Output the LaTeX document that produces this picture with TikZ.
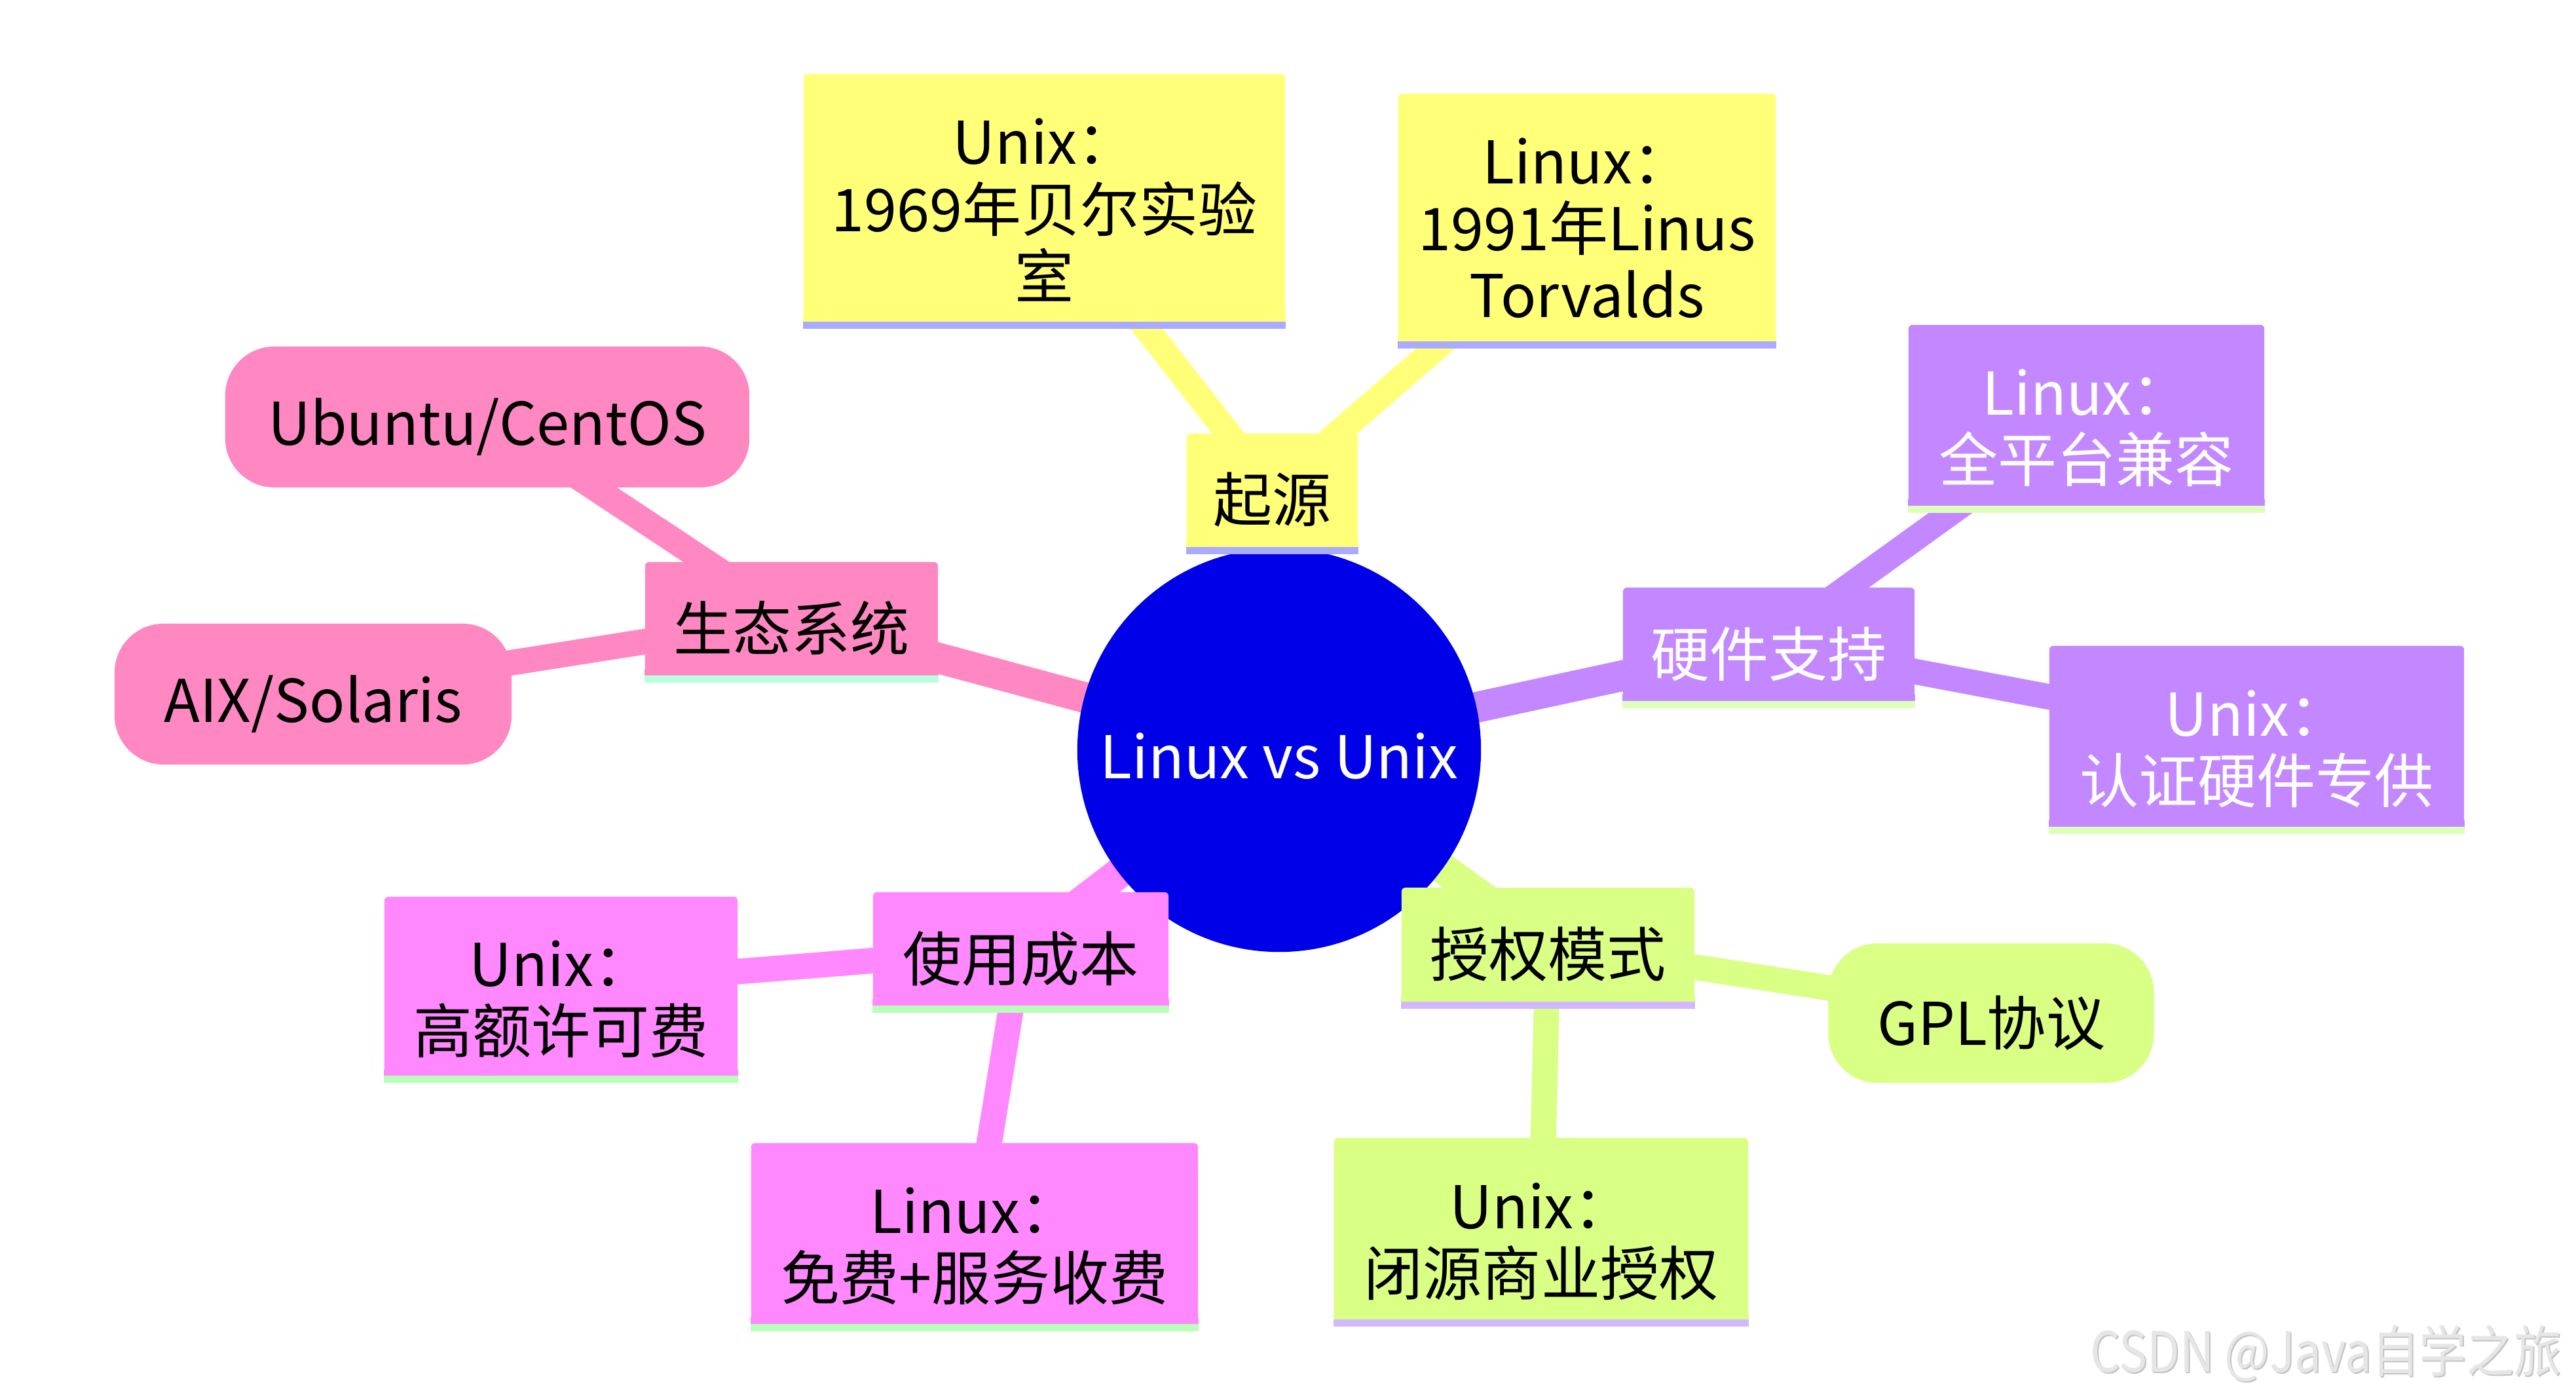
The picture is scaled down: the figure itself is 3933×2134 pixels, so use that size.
\documentclass[tikz,border=0pt]{standalone}
\usepackage{fontspec}
\setmainfont{Noto Sans CJK SC}
\usepackage{graphicx}
\usetikzlibrary{backgrounds,calc}
\definecolor{cRoot}{HTML}{0000E8}
\definecolor{cY}{HTML}{FFFF78}
\definecolor{cYu}{HTML}{AAAAFF}
\definecolor{cP}{HTML}{C388FF}
\definecolor{cPu}{HTML}{DDFFBB}
\definecolor{cG}{HTML}{D9FF85}
\definecolor{cGu}{HTML}{D4B8FF}
\definecolor{cM}{HTML}{FF88FF}
\definecolor{cMu}{HTML}{B8FFB8}
\definecolor{cK}{HTML}{FF88C2}
\definecolor{cKu}{HTML}{B8FFDD}
\definecolor{wmark}{HTML}{E6E6E6}
\definecolor{wshadow}{HTML}{C4C4C4}
\tikzset{
  boxshape/.style={rectangle, inner sep=0pt, rounded corners=0.06cm, draw=none},
  rboxshape/.style={rectangle, inner sep=0pt, rounded corners=0.75cm, draw=none},
  lbl/.style={inner sep=0pt, align=center, font=\fontsize{0.9cm}{1.02cm}\selectfont},
  edgezero/.style={line width=0.47cm},
  edgeone/.style={line width=0.39cm},
}
% name, x, y, width, height, fill, underline
\newcommand\mmbox[7]{%
  \node[boxshape, fill=#6, minimum width=#4, minimum height=#5] (#1) at (#2,#3) {};
  \fill[#6] ([yshift=0.1cm]#1.south west) rectangle (#1.south east);
  \fill[#7] (#1.south west) rectangle ([yshift=-0.11cm]#1.south east);
}
\begin{document}
\begin{tikzpicture}[x=0.01cm, y=-0.01cm]
\useasboundingbox (0,0) rectangle (3933,2134);

% root
\node[circle, fill=cRoot, minimum size=6.16cm, inner sep=0pt] (root) at (1953,1145) {};
\node[lbl, text=white] (roott) at (1953,1154) {Linux vs Unix};

% section 1: origin (yellow)
\mmbox{s1}{1942.5}{748}{2.61cm}{1.72cm}{cY}{cYu}
\node[lbl] (s1t) at ($(s1)+(0,15)$) {起源};
\mmbox{y1}{1594.5}{301.5}{7.35cm}{3.77cm}{cY}{cYu}
\node[lbl] (y1t) at ($(y1)+(0,19)$) {Unix：\\1969年贝尔实验\\室};
\mmbox{y2}{2423}{331.5}{5.76cm}{3.77cm}{cY}{cYu}
\node[lbl] (y2t) at ($(y2)+(0,17)$) {Linux：\\1991年Linus\\Torvalds};

% section 2: hardware (purple)
\mmbox{s2}{2700.5}{983}{4.45cm}{1.72cm}{cP}{cPu}
\node[lbl, text=white] (s2t) at ($(s2)+(0,15)$) {硬件支持};
\mmbox{p1}{3185.5}{633.5}{5.43cm}{2.75cm}{cP}{cPu}
\node[lbl, text=white] (p1t) at ($(p1)+(0,20)$) {Linux：\\全平台兼容};
\mmbox{p2}{3445.5}{1123.5}{6.33cm}{2.75cm}{cP}{cPu}
\node[lbl, text=white] (p2t) at ($(p2)+(0,20)$) {Unix：\\认证硬件专供};

% section 3: license (green)
\mmbox{s3}{2363.5}{1441.5}{4.47cm}{1.73cm}{cG}{cGu}
\node[lbl] (s3t) at ($(s3)+(0,15)$) {授权模式};
\node[rboxshape, fill=cG, minimum width=4.97cm, minimum height=2.13cm] (g1) at (3040,1546.5) {};
\node[lbl] (g1t) at ($(g1)+(0,15)$) {GPL协议};
\mmbox{g2}{2353}{1875}{6.32cm}{2.76cm}{cG}{cGu}
\node[lbl] (g2t) at ($(g2)+(0,20)$) {Unix：\\闭源商业授权};

% section 4: cost (magenta)
\mmbox{s4}{1558.5}{1448}{4.51cm}{1.72cm}{cM}{cMu}
\node[lbl] (s4t) at ($(s4)+(0,15)$) {使用成本};
\mmbox{m1}{856.5}{1505}{5.39cm}{2.72cm}{cM}{cMu}
\node[lbl] (m1t) at ($(m1)+(0,20)$) {Unix：\\高额许可费};
\mmbox{m2}{1488}{1882.5}{6.82cm}{2.75cm}{cM}{cMu}
\node[lbl] (m2t) at ($(m2)+(0,20)$) {Linux：\\免费+服务收费};

% section 5: ecosystem (pink)
\mmbox{s5}{1208.5}{944}{4.47cm}{1.72cm}{cK}{cKu}
\node[lbl] (s5t) at ($(s5)+(0,15)$) {生态系统};
\node[rboxshape, fill=cK, minimum width=8.00cm, minimum height=2.15cm] (k1) at (744,636.5) {};
\node[lbl] (k1t) at ($(k1)+(0,15)$) {Ubuntu/CentOS};
\node[rboxshape, fill=cK, minimum width=6.06cm, minimum height=2.15cm] (k2) at (478,1059.5) {};
\node[lbl] (k2t) at ($(k2)+(0,15)$) {AIX/Solaris};

% connectors
\begin{scope}[on background layer]
  \draw[edgezero, cY] (root.center) -- (s1.center);
  \draw[edgeone, cY] (s1.center) -- (y1.center);
  \draw[edgeone, cY] (s1.center) -- (y2.center);
  \draw[edgezero, cP] (root.center) -- (s2.center);
  \draw[edgeone, cP] (s2.center) -- (p1.center);
  \draw[edgeone, cP] (s2.center) -- (p2.center);
  \draw[edgezero, cG] (root.center) -- (s3.center);
  \draw[edgeone, cG] (s3.center) -- (g1.center);
  \draw[edgeone, cG] (s3.center) -- (g2.center);
  \draw[edgezero, cM] (root.center) -- (s4.center);
  \draw[edgeone, cM] (s4.center) -- (m1.center);
  \draw[edgeone, cM] (s4.center) -- (m2.center);
  \draw[edgezero, cK] (root.center) -- (s5.center);
  \draw[edgeone, cK] (s5.center) -- (k1.center);
  \draw[edgeone, cK] (s5.center) -- (k2.center);
\end{scope}

% watermark
\node[inner sep=0pt, text=wshadow, font=\fontsize{0.85cm}{1cm}\selectfont] (wms) at (3553,2068) {\scalebox{0.85}[1]{CSDN @Java自学之旅}};
\node[inner sep=0pt, text=wmark, font=\fontsize{0.85cm}{1cm}\selectfont] (wm) at (3551,2066) {\scalebox{0.85}[1]{CSDN @Java自学之旅}};
\end{tikzpicture}
\end{document}
